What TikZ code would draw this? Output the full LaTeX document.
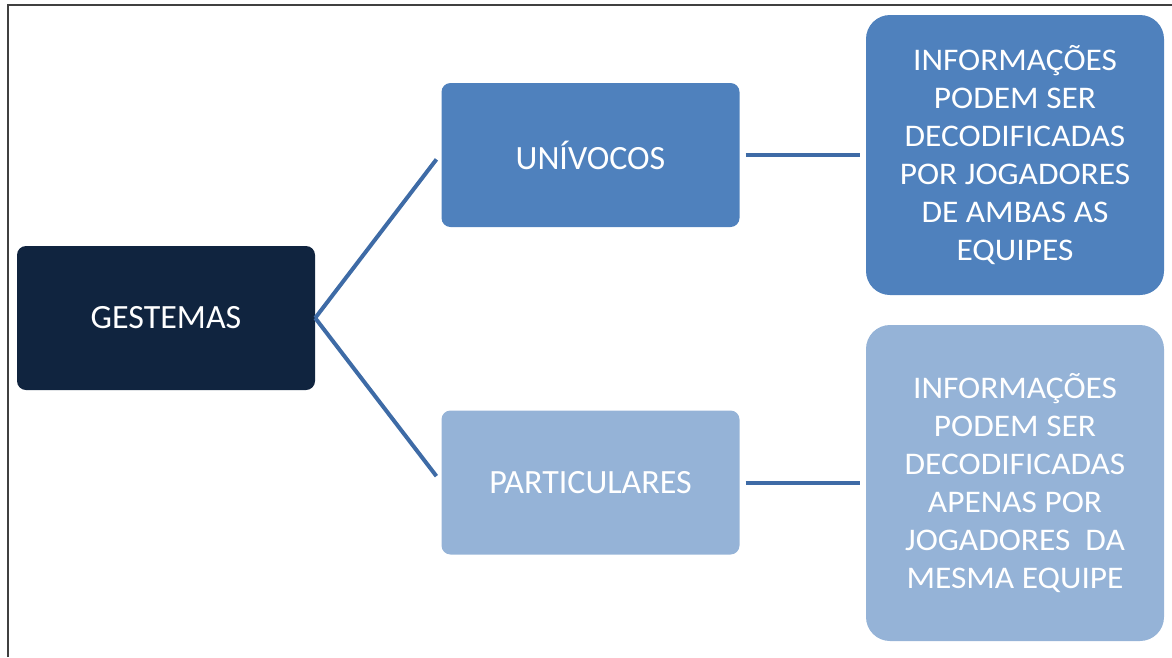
\documentclass[tikz,border=0pt]{standalone}
\usepackage{fontspec}
\setmainfont{Carlito}
\newfontfamily\widefont{Carlito}[FakeStretch=1.06]
\begin{document}
\begin{tikzpicture}[x=1pt,y=-1pt,
  box/.style={draw=none,text=white,align=center,inner sep=0pt,anchor=center},
  smallbox/.style={box,minimum width=298pt,minimum height=144pt,rounded corners=9pt,
    font=\fontsize{34}{38}\selectfont},
  bigbox/.style={box,minimum width=298pt,rounded corners=24pt,
    font=\widefont\fontsize{31.5}{38}\selectfont},
  link/.style={draw=linkblue,line width=4pt}]
\definecolor{navy}{HTML}{10243F}
\definecolor{midblue}{HTML}{4F81BD}
\definecolor{lightblue}{HTML}{95B3D7}
\definecolor{linkblue}{HTML}{3E6BA6}
\definecolor{framegray}{HTML}{404040}
\useasboundingbox (0,0) rectangle (1172,657);
% frame
\coordinate (ftl) at (8,5);
\coordinate (ftr) at (1172,5);
\coordinate (fbl) at (8,657);
\draw[framegray,line width=2.2pt] (fbl) -- (ftl) -- (ftr);
% nodes
\node[smallbox,fill=navy] (g) at (166,318) {GESTEMAS};
\node[smallbox,fill=midblue] (u) at (590.5,155) {UNÍVOCOS};
\node[smallbox,fill=lightblue] (p) at (590.5,482.5) {PARTICULARES};
\node[bigbox,fill=midblue,minimum height=280pt] (r1) at (1015,155)
  {INFORMAÇÕES\\PODEM SER\\DECODIFICADAS\\POR JOGADORES\\DE AMBAS AS\\EQUIPES};
\node[bigbox,fill=lightblue,minimum height=316pt] (r2) at (1015,483)
  {INFORMAÇÕES\\PODEM SER\\DECODIFICADAS\\APENAS POR\\JOGADORES~ DA\\MESMA EQUIPE};
% connectors
\draw[link,shorten >=8pt] (g.east) -- ([yshift=2pt]u.west);
\draw[link,shorten >=8pt] (g.east) -- (p.west);
\draw[link,shorten <=6pt,shorten >=6pt] (u.east) -- (u.east -| r1.west);
\draw[link,shorten <=6pt,shorten >=6pt] (p.east) -- (p.east -| r2.west);
\end{tikzpicture}
\end{document}
